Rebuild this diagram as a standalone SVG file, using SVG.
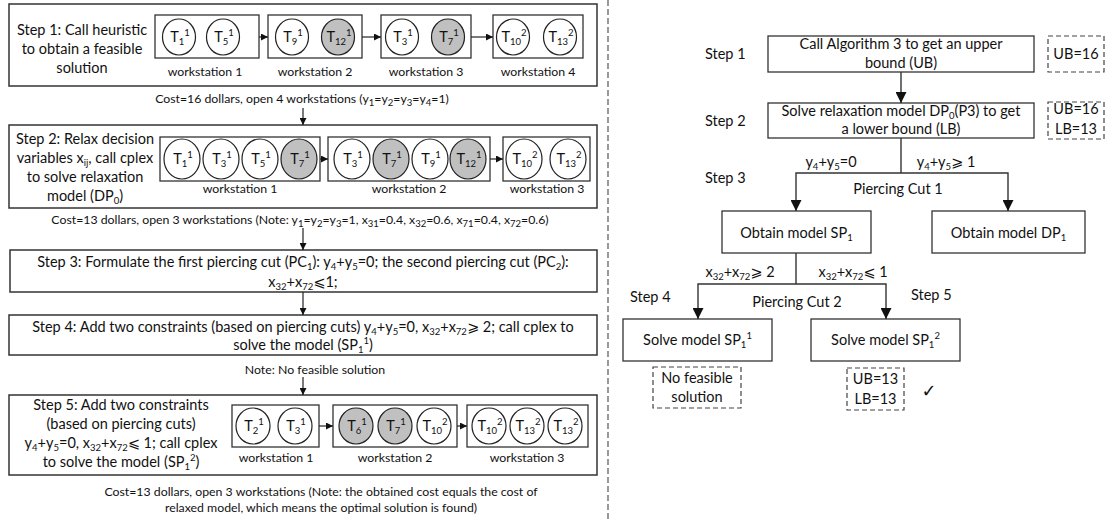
<svg xmlns="http://www.w3.org/2000/svg" width="1111" height="519" viewBox="0 0 1111 519">
<style>
text{font-family:Lato,"DejaVu Sans",sans-serif;fill:#111}
.m{text-anchor:middle}
.f15{font-size:14.5px}
.f12{font-size:12.3px}
.ct{font-size:14.5px;text-anchor:middle}
.sb{font-size:9.5px;baseline-shift:-3px}
.sp{font-size:9.5px;baseline-shift:6px}
.box{fill:#fff;stroke:#333;stroke-width:1.3}
.ob{fill:#fff;stroke:#333;stroke-width:1.5}
.dash{fill:none;stroke:#444;stroke-width:1.2;stroke-dasharray:5 3}
.cw{fill:#fff;stroke:#222;stroke-width:1.2}
.cg{fill:#c0c0c0;stroke:#222;stroke-width:1.2}
.ln{fill:none;stroke:#222;stroke-width:1.2}
.lr{fill:none;stroke:#333;stroke-width:1.4}
</style>
<defs>
<marker id="as" viewBox="0 0 10 10" refX="10" refY="5" markerWidth="7" markerHeight="7" markerUnits="userSpaceOnUse" orient="auto"><path d="M0,0L10,5L0,10z" fill="#111"/></marker>
<marker id="al" viewBox="0 0 10 10" refX="10" refY="5" markerWidth="11" markerHeight="11" markerUnits="userSpaceOnUse" orient="auto"><path d="M0,0L10,5L0,10z" fill="#111"/></marker>
</defs>

<line x1="608" y1="0" x2="608" y2="519" stroke="#555" stroke-width="1.2" stroke-dasharray="6 3"/>

<!-- LEFT PANEL -->
<g id="step1">
<rect class="ob" x="9" y="4" width="588" height="82"/>
<text class="f15 m" x="82" y="35">Step 1: Call heuristic</text>
<text class="f15 m" x="82" y="54">to obtain a feasible</text>
<text class="f15 m" x="82" y="73">solution</text>
<rect class="box" x="155" y="15" width="104" height="43"/>
<rect class="box" x="268" y="15" width="94" height="43"/>
<rect class="box" x="381" y="15" width="90" height="43"/>
<rect class="box" x="493" y="15" width="90" height="43"/>
<ellipse class="cw" cx="179" cy="37" rx="16.5" ry="18"/><text class="ct" x="180" y="42">T<tspan class="sb">1</tspan><tspan class="sp">1</tspan></text>
<ellipse class="cw" cx="223" cy="37" rx="16.5" ry="18"/><text class="ct" x="224" y="42">T<tspan class="sb">5</tspan><tspan class="sp">1</tspan></text>
<ellipse class="cw" cx="292" cy="37" rx="16.5" ry="18"/><text class="ct" x="293" y="42">T<tspan class="sb">9</tspan><tspan class="sp">1</tspan></text>
<ellipse class="cg" cx="338" cy="37" rx="16.5" ry="18"/><text class="ct" x="339" y="42">T<tspan class="sb">12</tspan><tspan class="sp">1</tspan></text>
<ellipse class="cw" cx="402" cy="37" rx="16.5" ry="18"/><text class="ct" x="403" y="42">T<tspan class="sb">3</tspan><tspan class="sp">1</tspan></text>
<ellipse class="cg" cx="448" cy="37" rx="16.5" ry="18"/><text class="ct" x="449" y="42">T<tspan class="sb">7</tspan><tspan class="sp">1</tspan></text>
<ellipse class="cw" cx="513" cy="37" rx="16.5" ry="18"/><text class="ct" x="514" y="42">T<tspan class="sb">10</tspan><tspan class="sp">2</tspan></text>
<ellipse class="cw" cx="560" cy="37" rx="16.5" ry="18"/><text class="ct" x="561" y="42">T<tspan class="sb">13</tspan><tspan class="sp">2</tspan></text>
<text class="f12 m" x="205" y="76">workstation 1</text>
<text class="f12 m" x="315" y="76">workstation 2</text>
<text class="f12 m" x="426" y="76">workstation 3</text>
<text class="f12 m" x="538" y="76">workstation 4</text>
</g>
<text id="cost1" class="f12 m" x="302" y="103">Cost=16 dollars, open 4 workstations (y<tspan class="sb">1</tspan>=y<tspan class="sb">2</tspan>=y<tspan class="sb">3</tspan>=y<tspan class="sb">4</tspan>=1)</text>

<g id="step2">
<rect class="ob" x="9" y="125" width="588" height="83"/>
<text class="f15 m" x="85" y="144">Step 2: Relax decision</text>
<text class="f15 m" x="85" y="163">variables x<tspan class="sb">ij</tspan>, call cplex</text>
<text class="f15 m" x="85" y="182">to solve relaxation</text>
<text class="f15 m" x="85" y="201">model (DP<tspan class="sb">0</tspan>)</text>
<rect class="box" x="160" y="137" width="160" height="44"/>
<rect class="box" x="328" y="137" width="162" height="44"/>
<rect class="box" x="503" y="137" width="87" height="44"/>
<ellipse class="cw" cx="182" cy="159" rx="18" ry="20"/><text class="ct" x="183" y="164">T<tspan class="sb">1</tspan><tspan class="sp">1</tspan></text>
<ellipse class="cw" cx="221" cy="159" rx="18" ry="20"/><text class="ct" x="222" y="164">T<tspan class="sb">3</tspan><tspan class="sp">1</tspan></text>
<ellipse class="cw" cx="260" cy="159" rx="18" ry="20"/><text class="ct" x="261" y="164">T<tspan class="sb">5</tspan><tspan class="sp">1</tspan></text>
<ellipse class="cg" cx="299" cy="159" rx="18" ry="20"/><text class="ct" x="300" y="164">T<tspan class="sb">7</tspan><tspan class="sp">1</tspan></text>
<ellipse class="cw" cx="352" cy="159" rx="18" ry="20"/><text class="ct" x="353" y="164">T<tspan class="sb">3</tspan><tspan class="sp">1</tspan></text>
<ellipse class="cg" cx="391" cy="159" rx="18" ry="20"/><text class="ct" x="392" y="164">T<tspan class="sb">7</tspan><tspan class="sp">1</tspan></text>
<ellipse class="cw" cx="430" cy="159" rx="18" ry="20"/><text class="ct" x="431" y="164">T<tspan class="sb">9</tspan><tspan class="sp">1</tspan></text>
<ellipse class="cg" cx="468" cy="159" rx="18" ry="20"/><text class="ct" x="469" y="164">T<tspan class="sb">12</tspan><tspan class="sp">1</tspan></text>
<ellipse class="cw" cx="524" cy="159" rx="18" ry="20"/><text class="ct" x="525" y="164">T<tspan class="sb">10</tspan><tspan class="sp">2</tspan></text>
<ellipse class="cw" cx="568" cy="159" rx="18" ry="20"/><text class="ct" x="569" y="164">T<tspan class="sb">13</tspan><tspan class="sp">2</tspan></text>
<text class="f12 m" x="240" y="193">workstation 1</text>
<text class="f12 m" x="409" y="193">workstation 2</text>
<text class="f12 m" x="547" y="193">workstation 3</text>
</g>
<text id="cost2" class="f12 m" x="300" y="224">Cost=13 dollars, open 3 workstations (Note: y<tspan class="sb">1</tspan>=y<tspan class="sb">2</tspan>=y<tspan class="sb">3</tspan>=1, x<tspan class="sb">31</tspan>=0.4, x<tspan class="sb">32</tspan>=0.6, x<tspan class="sb">71</tspan>=0.4, x<tspan class="sb">72</tspan>=0.6)</text>

<g id="step3">
<rect class="ob" x="10" y="250" width="587" height="42"/>
<text class="f15 m" x="303" y="267">Step 3: Formulate the first piercing cut (PC<tspan class="sb">1</tspan>): y<tspan class="sb">4</tspan>+y<tspan class="sb">5</tspan>=0; the second piercing cut (PC<tspan class="sb">2</tspan>):</text>
<text class="f15 m" x="303" y="287">x<tspan class="sb">32</tspan>+x<tspan class="sb">72</tspan>⩽1;</text>
</g>

<g id="step4">
<rect class="ob" x="9" y="315" width="588" height="40"/>
<text class="f15 m" x="303" y="332">Step 4: Add two constraints (based on piercing cuts) y<tspan class="sb">4</tspan>+y<tspan class="sb">5</tspan>=0, x<tspan class="sb">32</tspan>+x<tspan class="sb">72</tspan>⩾ 2; call cplex to</text>
<text class="f15 m" x="303" y="350">solve the model (SP<tspan class="sb">1</tspan><tspan class="sp">1</tspan>)</text>
</g>
<text id="note4" class="f12 m" x="315" y="374">Note: No feasible solution</text>

<g id="step5">
<rect class="ob" x="9" y="395" width="588" height="80"/>
<text class="f15 m" x="121" y="410">Step 5: Add two constraints</text>
<text class="f15 m" x="121" y="429">(based on piercing cuts)</text>
<text class="f15 m" x="121" y="448">y<tspan class="sb">4</tspan>+y<tspan class="sb">5</tspan>=0, x<tspan class="sb">32</tspan>+x<tspan class="sb">72</tspan>⩽ 1; call cplex</text>
<text class="f15 m" x="121" y="467">to solve the model (SP<tspan class="sb">1</tspan><tspan class="sp">2</tspan>)</text>
<rect class="box" x="232" y="405" width="87" height="42"/>
<rect class="box" x="333" y="405" width="124" height="42"/>
<rect class="box" x="467" y="405" width="121" height="42"/>
<ellipse class="cw" cx="253" cy="426" rx="17" ry="18"/><text class="ct" x="254" y="431">T<tspan class="sb">2</tspan><tspan class="sp">1</tspan></text>
<ellipse class="cw" cx="295" cy="426" rx="17" ry="18"/><text class="ct" x="296" y="431">T<tspan class="sb">3</tspan><tspan class="sp">1</tspan></text>
<ellipse class="cg" cx="356" cy="426" rx="17" ry="18"/><text class="ct" x="357" y="431">T<tspan class="sb">6</tspan><tspan class="sp">1</tspan></text>
<ellipse class="cg" cx="395" cy="426" rx="17" ry="18"/><text class="ct" x="396" y="431">T<tspan class="sb">7</tspan><tspan class="sp">1</tspan></text>
<ellipse class="cw" cx="434" cy="426" rx="17" ry="18"/><text class="ct" x="435" y="431">T<tspan class="sb">10</tspan><tspan class="sp">2</tspan></text>
<ellipse class="cw" cx="489" cy="426" rx="17" ry="18"/><text class="ct" x="490" y="431">T<tspan class="sb">10</tspan><tspan class="sp">2</tspan></text>
<ellipse class="cw" cx="527" cy="426" rx="17" ry="18"/><text class="ct" x="528" y="431">T<tspan class="sb">13</tspan><tspan class="sp">2</tspan></text>
<ellipse class="cw" cx="565" cy="426" rx="17" ry="18"/><text class="ct" x="566" y="431">T<tspan class="sb">13</tspan><tspan class="sp">2</tspan></text>
<text class="f12 m" x="276" y="462">workstation 1</text>
<text class="f12 m" x="395" y="462">workstation 2</text>
<text class="f12 m" x="527" y="462">workstation 3</text>
</g>
<text id="cost5a" class="f12 m" x="321" y="496">Cost=13 dollars, open 3 workstations (Note: the obtained cost equals the cost of</text>
<text id="cost5b" class="f12 m" x="321" y="512">relaxed model, which means the optimal solution is found)</text>

<!-- RIGHT PANEL -->
<g id="r-step-labels">
<text class="f15" x="705" y="59">Step 1</text>
<text class="f15" x="705" y="126">Step 2</text>
<text class="f15" x="705" y="183">Step 3</text>
<text class="f15" x="630" y="302">Step 4</text>
<text class="f15" x="911" y="300">Step 5</text>
</g>
<g id="r1">
<rect class="box" x="768" y="36" width="266" height="36"/>
<text class="f15 m" x="901" y="49">Call Algorithm 3 to get an upper</text>
<text class="f15 m" x="901" y="68">bound (UB)</text>
</g>
<g id="ub1">
<rect class="dash" x="1048" y="36" width="56" height="36"/>
<text class="f15 m" x="1076" y="59">UB=16</text>
</g>
<g id="r2">
<rect class="box" x="768" y="103" width="266" height="35"/>
<text class="f15 m" x="901" y="116">Solve relaxation model DP<tspan class="sb">0</tspan>(P3) to get</text>
<text class="f15 m" x="901" y="134">a lower bound (LB)</text>
</g>
<g id="ub2">
<rect class="dash" x="1048" y="102" width="56" height="37"/>
<text class="f15 m" x="1076" y="114">UB=16</text>
<text class="f15 m" x="1076" y="134">LB=13</text>
</g>
<g id="r3a">
<rect class="box" x="722" y="211" width="149" height="42"/>
<text class="f15 m" x="796.5" y="238">Obtain model SP<tspan class="sb">1</tspan></text>
</g>
<g id="r3b">
<rect class="box" x="932" y="211" width="153" height="42"/>
<text class="f15 m" x="1008.5" y="238">Obtain model DP<tspan class="sb">1</tspan></text>
</g>
<g id="r4">
<rect class="box" x="623" y="319" width="149" height="42"/>
<text class="f15 m" x="697.5" y="345">Solve model SP<tspan class="sb">1</tspan><tspan class="sp">1</tspan></text>
</g>
<g id="r5">
<rect class="box" x="811" y="319" width="149" height="42"/>
<text class="f15 m" x="885.5" y="345">Solve model SP<tspan class="sb">1</tspan><tspan class="sp">2</tspan></text>
</g>
<g id="nf">
<rect class="dash" x="653" y="367" width="88" height="41"/>
<text class="f15 m" x="697" y="383">No feasible</text>
<text class="f15 m" x="697" y="402">solution</text>
</g>
<g id="ub3">
<rect class="dash" x="847" y="368" width="57" height="42"/>
<text class="f15 m" x="875.5" y="384">UB=13</text>
<text class="f15 m" x="875.5" y="404">LB=13</text>
</g>
<text id="check" x="929" y="397" style="font-family:'DejaVu Sans',sans-serif;font-size:18px;font-weight:bold" class="m">✓</text>

<g id="edge-labels">
<text class="f15 m" x="831" y="167">y<tspan class="sb">4</tspan>+y<tspan class="sb">5</tspan>=0</text>
<text class="f15 m" x="946" y="167">y<tspan class="sb">4</tspan>+y<tspan class="sb">5</tspan>⩾ 1</text>
<text class="f15 m" x="898" y="194">Piercing Cut 1</text>
<text class="f15 m" x="740" y="277">x<tspan class="sb">32</tspan>+x<tspan class="sb">72</tspan>⩾ 2</text>
<text class="f15 m" x="853" y="277">x<tspan class="sb">32</tspan>+x<tspan class="sb">72</tspan>⩽ 1</text>
<text class="f15 m" x="797" y="307">Piercing Cut 2</text>
</g>

<g id="connectors">
<line class="ln" x1="259" y1="37" x2="268" y2="37" marker-end="url(#as)"/>
<line class="ln" x1="362" y1="37" x2="381" y2="37" marker-end="url(#as)"/>
<line class="ln" x1="471" y1="37" x2="493" y2="37" marker-end="url(#as)"/>
<line class="ln" x1="303" y1="108" x2="303" y2="125" marker-end="url(#as)"/>
<line class="ln" x1="320" y1="159" x2="328" y2="159" marker-end="url(#as)"/>
<line class="ln" x1="490" y1="159" x2="503" y2="159" marker-end="url(#as)"/>
<line class="ln" x1="303" y1="228" x2="303" y2="250" marker-end="url(#as)"/>
<line class="ln" x1="303" y1="292" x2="303" y2="315" marker-end="url(#as)"/>
<line class="ln" x1="303" y1="377" x2="303" y2="395" marker-end="url(#as)"/>
<line class="ln" x1="319" y1="426" x2="333" y2="426" marker-end="url(#as)"/>
<line class="ln" x1="457" y1="426" x2="467" y2="426" marker-end="url(#as)"/>
<line class="lr" x1="901" y1="72" x2="901" y2="103" marker-end="url(#al)"/>
<line class="lr" x1="901" y1="138" x2="901" y2="173"/>
<polyline class="lr" points="901,173 796,173 796,211" marker-end="url(#al)"/>
<polyline class="lr" points="901,173 1008,173 1008,211" marker-end="url(#al)"/>
<line class="lr" x1="796" y1="253" x2="796" y2="284"/>
<polyline class="lr" points="796,284 698,284 698,319" marker-end="url(#al)"/>
<polyline class="lr" points="796,284 886,284 886,319" marker-end="url(#al)"/>
</g>
</svg>
